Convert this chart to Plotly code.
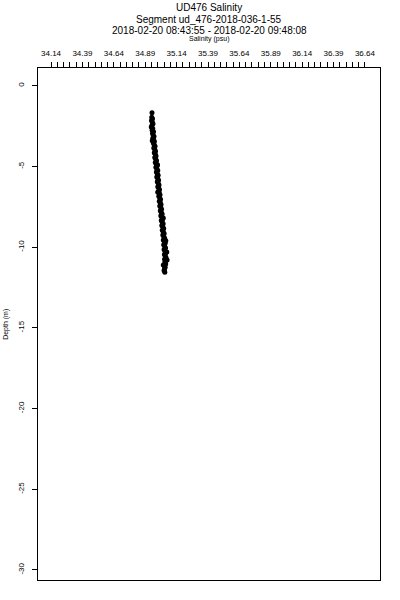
import plotly.graph_objects as go

# Data
depth = [-1.68, -1.95, -2.05, -2.15, -2.25, -2.35, -2.45, -2.55, -2.65, -2.75,
         -2.85, -2.95, -3.05, -3.15, -3.25, -3.35, -3.45, -3.55, -3.65, -3.75,
         -3.85, -3.95, -4.05, -4.15, -4.25, -4.35, -4.45, -4.55, -4.65, -4.75,
         -4.85, -4.95, -5.05, -5.15, -5.25, -5.35, -5.45, -5.55, -5.65, -5.75,
         -5.85, -5.95, -6.05, -6.15, -6.25, -6.35, -6.45, -6.55, -6.65, -6.75,
         -6.85, -6.95, -7.05, -7.15, -7.25, -7.35, -7.45, -7.55, -7.65, -7.75,
         -7.85, -7.95, -8.05, -8.15, -8.25, -8.35, -8.45, -8.55, -8.65, -8.75,
         -8.85, -8.95, -9.05, -9.15, -9.25, -9.35, -9.45, -9.55, -9.65, -9.75,
         -9.85, -9.95, -10.05, -10.15, -10.25, -10.35, -10.45, -10.55, -10.65, -10.75,
         -10.85, -10.95, -11.05, -11.15, -11.25, -11.35, -11.45, -11.55,
         -3.40, -4.90, -6.60, -8.20, -9.60, -10.30, -10.80, -11.10]
salinity = [34.944, 34.942, 34.948, 34.940, 34.946, 34.952, 34.944, 34.938, 34.950, 34.945,
            34.956, 34.948, 34.953, 34.960, 34.950, 34.957, 34.963, 34.955, 34.961, 34.968,
            34.958, 34.966, 34.972, 34.962, 34.970, 34.976, 34.966, 34.974, 34.980, 34.970,
            34.978, 34.985, 34.975, 34.983, 34.990, 34.979, 34.986, 34.993, 34.982, 34.990,
            34.996, 34.986, 34.994, 35.000, 34.990, 34.998, 35.004, 34.994, 35.002, 35.008,
            34.998, 35.006, 35.012, 35.002, 35.010, 35.016, 35.006, 35.014, 35.020, 35.010,
            35.018, 35.025, 35.014, 35.022, 35.029, 35.018, 35.026, 35.033, 35.022, 35.030,
            35.037, 35.026, 35.034, 35.041, 35.030, 35.038, 35.045, 35.034, 35.042, 35.049,
            35.037, 35.045, 35.052, 35.040, 35.048, 35.055, 35.043, 35.050, 35.056, 35.044,
            35.051, 35.046, 35.053, 35.042, 35.049, 35.044, 35.040, 35.046,
            34.946, 34.988, 34.990, 35.034, 35.054, 35.062, 35.064, 35.034]

x_major = [34.14, 34.39, 34.64, 34.89, 35.14, 35.39, 35.64, 35.89, 36.14, 36.39, 36.64]
x_labels = ["34.14", "34.39", "34.64", "34.89", "35.14", "35.39", "35.64", "35.89",
            "36.14", "36.39", "36.64"]
y_ticks = [0, -5, -10, -15, -20, -25, -30]
y_labels = ["0", "-5", "-10", "-15", "-20", "-25", "-30"]

title_lines = ["UD476 Salinity", "Segment ud_476-2018-036-1-55",
               "2018-02-20 08:43:55 - 2018-02-20 09:48:08"]

# tick positions every 0.05 between labelled ticks
x_tickvals = []
x_ticktext = []
for i, v in enumerate(x_major):
    x_tickvals.append(v)
    x_ticktext.append(x_labels[i])
    if i < len(x_major) - 1:
        for k in range(1, 5):
            x_tickvals.append(round(v + 0.05 * k, 2))
            x_ticktext.append("")

FONT = "Liberation Sans, Arial, sans-serif"

fig = go.Figure()
fig.add_trace(go.Scatter(
    x=salinity, y=depth, mode="markers",
    marker=dict(color="black", size=5, symbol="circle"),
    showlegend=False, hoverinfo="skip"))

fig.update_layout(
    width=400, height=600,
    margin=dict(l=38, r=20, t=68, b=20, autoexpand=False),
    paper_bgcolor="white", plot_bgcolor="white",
    font=dict(family=FONT, color="black", size=8),
    xaxis=dict(side="top", range=[34.036, 36.76], tickmode="array",
               tickvals=x_tickvals, ticktext=x_ticktext, tickangle=0,
               ticks="outside", ticklen=5, tickwidth=1, tickcolor="black",
               ticklabelstandoff=3, automargin=False,
               showline=True, linecolor="black", linewidth=1, mirror=True,
               showgrid=False, zeroline=False, tickfont=dict(size=8)),
    yaxis=dict(range=[-30.62, 1.10], tickmode="array", tickvals=y_ticks,
               ticktext=y_labels, tickangle=-90,
               ticks="outside", ticklen=5, tickwidth=1, tickcolor="black",
               ticklabelstandoff=5, automargin=False,
               showline=True, linecolor="black", linewidth=1, mirror=True,
               showgrid=False, zeroline=False, tickfont=dict(size=8)),
)

ys = [1.118, 1.095, 1.0735]
for t, yy in zip(title_lines, ys):
    fig.add_annotation(text=t, x=0.5, y=yy, xref="paper", yref="paper",
                       showarrow=False, xanchor="center", yanchor="middle",
                       font=dict(size=10, family=FONT))
fig.add_annotation(text="Salinity (psu)", x=0.5, y=1.056, xref="paper", yref="paper",
                   showarrow=False, xanchor="center", yanchor="middle",
                   font=dict(size=7, family=FONT))
fig.add_annotation(text="Depth (m)", x=-0.094, y=0.5, xref="paper", yref="paper",
                   showarrow=False, xanchor="center", yanchor="middle", textangle=-90,
                   font=dict(size=7, family=FONT))

fig.write_html("out.html", config={"displayModeBar": False},
               post_script="document.body.style.margin='0';document.body.style.padding='0';")
